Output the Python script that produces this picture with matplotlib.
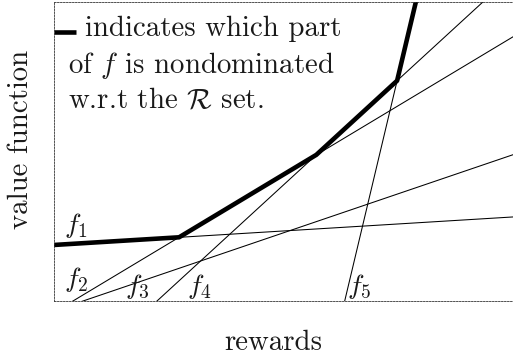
#!/usr/bin/env python
"""
Value functions f1..f5 as lines of rewards, with the nondominated
upper envelope drawn thick.
"""

import numpy as np
import matplotlib
matplotlib.use("Agg")
import matplotlib.pyplot as plt

# line data: value = slope * reward + intercept
names = ["$f_1$", "$f_2$", "$f_3$", "$f_4$", "$f_5$"]
slopes = [0.061, 0.60, 0.34, 0.917, 4.2]
intercepts = [1.22, -0.248, -0.215, -2.058, -26.6]

# label positions (reward, value) for each line name
label_x = [0.22, 0.22, 1.55, 2.9, 6.38]
label_y = [1.32, 0.16, 0.0, 0.0, 0.0]

x_max = 10.0
y_max = 6.51

plt.rcParams["font.family"] = "serif"
plt.rcParams["font.serif"] = ["cmr10", "DejaVu Serif"]
plt.rcParams["mathtext.fontset"] = "cm"
plt.rcParams["axes.unicode_minus"] = False

txt_c = "#1a1a1a"

fig = plt.figure(figsize=(5.13, 3.63), dpi=100)
ax = fig.add_axes([54 / 513, 62 / 363, 459 / 513, 299 / 363])

x = np.linspace(0, x_max, 2001)
values = np.array([s * x + b for s, b in zip(slopes, intercepts)])

for v in values:
    ax.plot(x, v, c="black", lw=0.75)

# nondominated part: upper envelope
ax.plot(x, values.max(axis=0), c="black", lw=3.3, solid_capstyle="butt")

for name, lx, ly in zip(names, label_x, label_y):
    ax.text(lx, ly, name, fontsize=20, va="bottom", ha="left", color=txt_c)

ax.set_xlim(0, x_max)
ax.set_ylim(0, y_max)
ax.set_xticks([])
ax.set_yticks([])
for sp in ax.spines.values():
    sp.set_linestyle((0, (2, 1.6)))
    sp.set_linewidth(0.6)
    sp.set_color("#333333")

# legend-like note
ax.plot([0, 0.48], [5.86, 5.86], c="black", lw=3.3, solid_capstyle="butt",
        clip_on=False)
ax.text(0.68, 5.77, "indicates which part", fontsize=20.8, va="baseline", color=txt_c)
ax.text(0.31, 4.97, "of $f$ is nondominated", fontsize=20.8, va="baseline", color=txt_c)
ax.text(0.31, 4.22, r"w.r.t the $\mathcal{R}$ set.", fontsize=20.8, va="baseline", color=txt_c)

ax.set_xlabel("rewards", fontsize=20.8, color=txt_c)
ax.xaxis.set_label_coords((273 - 54) / 459, -0.14)
ax.xaxis.label.set_va("center")
ax.set_ylabel("value function", fontsize=20.8, color=txt_c)
ax.yaxis.set_label_coords(-(54 - 21) / 459, (301 - 139) / 299)
ax.yaxis.label.set_va("center")

fig.savefig("out.png", dpi=100)
